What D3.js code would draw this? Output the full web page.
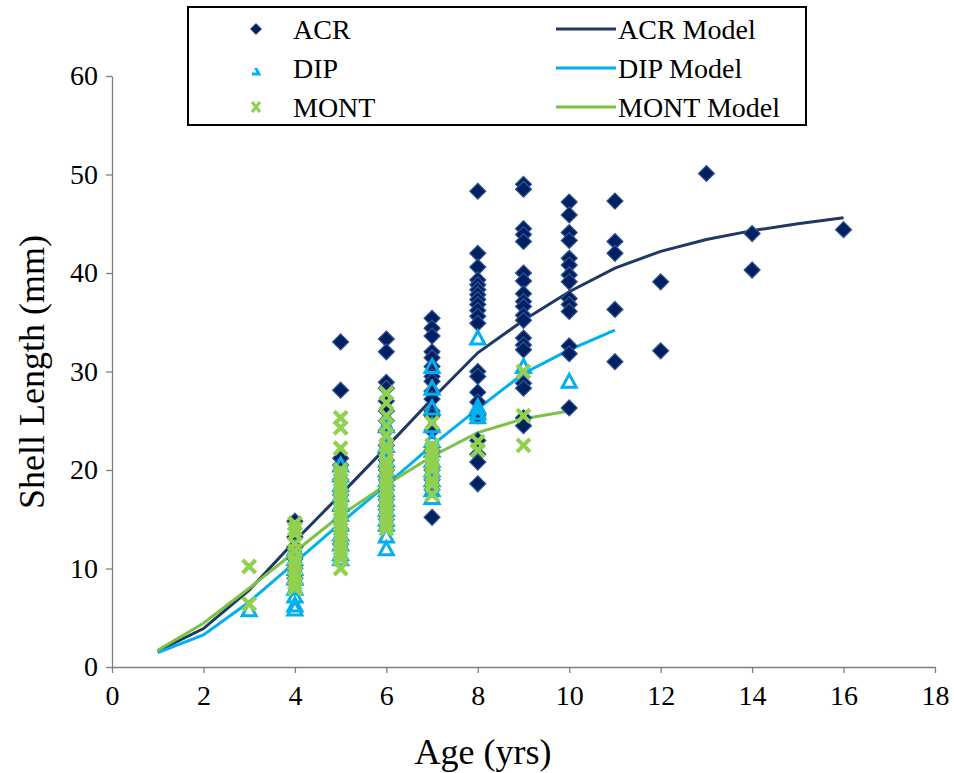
<!DOCTYPE html>
<html lang="en">
<head>
    <meta charset="UTF-8">
    <title>Shell Length vs Age</title>
    <script src="https://cdnjs.cloudflare.com/ajax/libs/d3/7.8.5/d3.min.js"></script>
    <style>
        body {
            margin: 0;
            padding: 0;
            background: #ffffff;
        }
        svg text {
            font-family: Liberation Serif, serif !important;
        }
    </style>
</head>
<body>
    <div id="chart"></div>

    <script>
        // observed shell lengths (mm) by age (yrs), one list per site
        const acrAges = [4, 4, 4, 4, 4, 4, 4,
            5, 5, 5, 5, 5, 5, 5, 5, 5,
            6, 6, 6, 6, 6, 6, 6, 6, 6, 6, 6, 6, 6, 6, 6, 6,
            7, 7, 7, 7, 7, 7, 7, 7, 7, 7, 7, 7, 7, 7, 7, 7, 7, 7,
            8, 8, 8, 8, 8, 8, 8, 8, 8, 8, 8, 8, 8, 8, 8, 8, 8, 8, 8, 8, 8,
            9, 9, 9, 9, 9, 9, 9, 9, 9, 9, 9, 9, 9, 9, 9, 9, 9, 9, 9,
            10, 10, 10, 10, 10, 10, 10, 10, 10, 10, 10, 10, 10, 10,
            11, 11, 11, 11, 11,
            12, 12, 13, 14, 14, 16];
        const acrLengths = [14.8, 13.2, 12.2, 11.0, 10.0, 9.0, 8.5,
            33.0, 28.1, 21.2, 20.5, 19.0, 17.5, 16.0, 14.0, 12.5,
            33.3, 32.0, 28.9, 28.3, 27.0, 26.0, 25.0, 24.0, 22.5, 21.0, 20.0, 19.0, 18.0, 17.0, 16.0, 15.0,
            35.4, 34.4, 33.6, 32.0, 31.4, 30.5, 29.5, 29.0, 28.0, 27.2, 26.0, 25.5, 24.0, 22.0, 20.0, 19.0, 18.0, 15.2,
            48.3, 42.0, 40.6, 39.3, 38.8, 38.3, 37.8, 37.3, 36.8, 36.2, 35.6, 34.9, 30.0, 29.5, 27.9, 26.9, 25.5, 23.0, 21.6, 20.8, 18.6,
            49.0, 48.5, 44.5, 43.9, 43.2, 40.0, 39.2, 37.9, 37.1, 36.6, 35.7, 35.2, 33.4, 32.7, 32.2, 28.8, 28.3, 25.3, 24.5,
            47.2, 45.9, 44.1, 43.3, 41.5, 40.8, 39.8, 39.1, 37.4, 36.8, 36.1, 32.6, 31.8, 26.3,
            47.3, 43.2, 42.0, 36.3, 31.0,
            39.1, 32.1, 50.1, 44.0, 40.3, 44.4];

        const dipAges = [3,
            4, 4, 4, 4, 4, 4, 4, 4,
            5, 5, 5, 5, 5, 5, 5, 5, 5, 5, 5,
            6, 6, 6, 6, 6, 6, 6, 6, 6, 6, 6, 6,
            7, 7, 7, 7, 7, 7, 7, 7, 7, 7, 7,
            8, 8, 8, 8,
            9, 10];
        const dipLengths = [5.8,
            5.9, 6.3, 7.2, 8.0, 9.0, 10.0, 11.0, 12.0,
            20.5, 19.5, 18.5, 17.5, 16.5, 15.5, 14.5, 13.5, 12.5, 11.5, 11.0,
            24.5, 22.5, 21.0, 20.0, 19.0, 18.0, 17.0, 16.0, 15.0, 14.5, 13.3, 12.0,
            30.5, 28.3, 26.3, 24.5, 23.0, 22.0, 21.0, 20.0, 19.0, 18.0, 17.2,
            33.4, 26.4, 25.8, 25.4,
            30.5, 29.0];

        const montAges = [3, 3,
            4, 4, 4, 4, 4, 4, 4, 4, 4, 4, 4, 4,
            5, 5, 5, 5, 5, 5, 5, 5, 5, 5, 5, 5, 5, 5, 5, 5, 5, 5, 5, 5, 5, 5, 5,
            6, 6, 6, 6, 6, 6, 6, 6, 6, 6, 6, 6, 6, 6, 6, 6, 6, 6, 6, 6, 6, 6,
            7, 7, 7, 7, 7, 7, 7, 7, 7, 7,
            8, 8,
            9, 9, 9];
        const montLengths = [10.2, 6.4,
            14.6, 14.0, 13.5, 12.5, 11.8, 11.0, 10.5, 10.0, 9.5, 9.0, 8.5, 8.0,
            25.3, 24.3, 22.2, 20.0, 19.5, 19.0, 18.5, 18.0, 17.5, 17.0, 16.5, 16.0, 15.5, 15.0, 14.5, 14.0, 13.5, 13.0, 12.5, 12.0, 11.5, 11.0, 10.0,
            27.8, 26.8, 25.5, 24.5, 23.5, 22.5, 22.0, 21.0, 20.5, 20.0, 19.5, 19.0, 18.5, 18.0, 17.5, 17.0, 16.5, 16.0, 15.5, 15.0, 14.5, 14.0,
            24.8, 22.5, 22.0, 21.5, 21.0, 20.5, 20.0, 19.0, 18.5, 17.5,
            22.9, 22.0,
            30.0, 25.5, 22.5];

        // growth model curves
        const acrModelAges = [1, 2, 3, 4, 5, 6, 7, 8, 9, 10, 11, 12, 13, 14, 15, 16];
        const acrModel = [1.6, 3.9, 7.8, 12.8, 17.5, 22.3, 27.2, 31.9, 35.2, 38.1, 40.5, 42.2, 43.4, 44.3, 45.0, 45.6];
        const dipModelAges = [1, 2, 3, 4, 5, 6, 7, 8, 9, 10, 11];
        const dipModel = [1.45, 3.25, 6.6, 10.6, 14.6, 18.5, 22.5, 26.2, 29.8, 32.2, 34.2];
        const montModelAges = [1, 2, 3, 4, 5, 6, 7, 8, 9, 10];
        const montModel = [1.7, 4.45, 8.0, 11.7, 15.4, 18.5, 21.4, 23.8, 25.2, 26.0];

        const xTicks = [0, 2, 4, 6, 8, 10, 12, 14, 16, 18];
        const yTicks = [0, 10, 20, 30, 40, 50, 60];

        const serif = "Liberation Serif, serif";
        const navy = "#002060", navyEdge = "#2f5597", navyLine = "#1f3864";
        const cyan = "#00b0f0", green = "#92d050", greenLine = "#7dc242";

        const width = 954, height = 773;
        const svg = d3.select("#chart").append("svg")
            .attr("width", width)
            .attr("height", height)
            .attr("font-family", serif);

        const x = d3.scaleLinear().domain([0, 18]).range([112, 935]);
        const y = d3.scaleLinear().domain([0, 60]).range([667, 76]);

        // axes
        const xAxis = svg.append("g")
            .attr("transform", `translate(0,${y(0)})`)
            .call(d3.axisBottom(x).tickValues(xTicks).tickSize(6).tickPadding(12).tickSizeOuter(0));
        const yAxis = svg.append("g")
            .attr("transform", `translate(${x(0)},0)`)
            .call(d3.axisLeft(y).tickValues(yTicks).tickSize(6).tickPadding(8).tickSizeOuter(0));

        [xAxis, yAxis].forEach(a => {
            a.attr("font-family", serif).attr("font-size", 28);
            a.select(".domain").attr("stroke", "#7f7f7f").attr("stroke-width", 1.3);
            a.selectAll(".tick line").attr("stroke", "#7f7f7f").attr("stroke-width", 1.3);
            a.selectAll("text").attr("fill", "#000").attr("font-family", serif);
        });

        svg.append("text")
            .attr("x", 483).attr("y", 764)
            .attr("text-anchor", "middle")
            .attr("font-size", 36)
            .attr("font-family", serif)
            .text("Age (yrs)");

        svg.append("text")
            .attr("transform", "translate(44,372) rotate(-90)")
            .attr("text-anchor", "middle")
            .attr("font-size", 36)
            .attr("font-family", serif)
            .text("Shell Length (mm)");

        // model lines
        const line = d3.line().x(d => x(d[0])).y(d => y(d[1]));
        const models = [
            {ages: acrModelAges, vals: acrModel, color: navyLine},
            {ages: dipModelAges, vals: dipModel, color: cyan},
            {ages: montModelAges, vals: montModel, color: greenLine}
        ];
        models.forEach(m => {
            svg.append("path")
                .datum(m.ages.map((a, i) => [a, m.vals[i]]))
                .attr("fill", "none")
                .attr("stroke", m.color)
                .attr("stroke-width", 3)
                .attr("d", line);
        });

        // marker shapes
        const diamondPath = "M0,-8L8,0L0,8L-8,0Z";
        const trianglePath = "M0,-7L7,6L-7,6Z";
        const crossPath = "M-6.5,-6.5L6.5,6.5M6.5,-6.5L-6.5,6.5";

        function drawDiamonds(g, ages, vals) {
            g.selectAll("path").data(ages.map((a, i) => [a, vals[i]])).enter().append("path")
                .attr("d", diamondPath)
                .attr("transform", d => `translate(${x(d[0])},${y(d[1])})`)
                .attr("fill", navy)
                .attr("stroke", navyEdge)
                .attr("stroke-width", 1.2);
        }
        function drawTriangles(g, ages, vals) {
            g.selectAll("path").data(ages.map((a, i) => [a, vals[i]])).enter().append("path")
                .attr("d", trianglePath)
                .attr("transform", d => `translate(${x(d[0])},${y(d[1])})`)
                .attr("fill", "none")
                .attr("stroke", cyan)
                .attr("stroke-width", 3);
        }
        function drawCrosses(g, ages, vals) {
            g.selectAll("path").data(ages.map((a, i) => [a, vals[i]])).enter().append("path")
                .attr("d", crossPath)
                .attr("transform", d => `translate(${x(d[0])},${y(d[1])})`)
                .attr("fill", "none")
                .attr("stroke", green)
                .attr("stroke-width", 4.2);
        }

        drawDiamonds(svg.append("g"), acrAges, acrLengths);
        drawTriangles(svg.append("g"), dipAges, dipLengths);
        drawCrosses(svg.append("g"), montAges, montLengths);

        // legend
        const legend = svg.append("g").attr("font-size", 28).attr("font-family", serif);
        legend.append("rect")
            .attr("x", 188).attr("y", 7)
            .attr("width", 618).attr("height", 118)
            .attr("fill", "#fff")
            .attr("stroke", "#000")
            .attr("stroke-width", 2);

        const rows = [29, 68, 107];
        const labels = ["ACR", "DIP", "MONT"];
        const modelLabels = ["ACR Model", "DIP Model", "MONT Model"];
        const lineColors = [navyLine, cyan, greenLine];

        legend.append("path").attr("d", diamondPath)
            .attr("transform", `translate(256,${rows[0]}) scale(0.7)`)
            .attr("fill", navy).attr("stroke", navyEdge);

        // the DIP legend marker shows only its clipped lower right corner
        svg.append("clipPath").attr("id", "dipclip")
            .append("rect").attr("x", -1).attr("y", -1).attr("width", 10).attr("height", 10);
        legend.append("path").attr("d", "M0,-6L6,5L-6,5Z")
            .attr("transform", `translate(253,${rows[1] + 1})`)
            .attr("clip-path", "url(#dipclip)")
            .attr("fill", "none").attr("stroke", cyan).attr("stroke-width", 2.8);

        legend.append("path").attr("d", "M-4,-5L4,5M4,-5L-4,5")
            .attr("transform", `translate(256,${rows[2]})`)
            .attr("fill", "none").attr("stroke", green).attr("stroke-width", 3.2);

        labels.forEach((t, i) => {
            legend.append("text")
                .attr("x", 293).attr("y", rows[i] + 10)
                .text(t);
        });
        modelLabels.forEach((t, i) => {
            legend.append("line")
                .attr("x1", 556).attr("x2", 616)
                .attr("y1", rows[i]).attr("y2", rows[i])
                .attr("stroke", lineColors[i]).attr("stroke-width", 3);
            legend.append("text")
                .attr("x", 618).attr("y", rows[i] + 10)
                .text(t);
        });
    </script>
</body>
</html>
